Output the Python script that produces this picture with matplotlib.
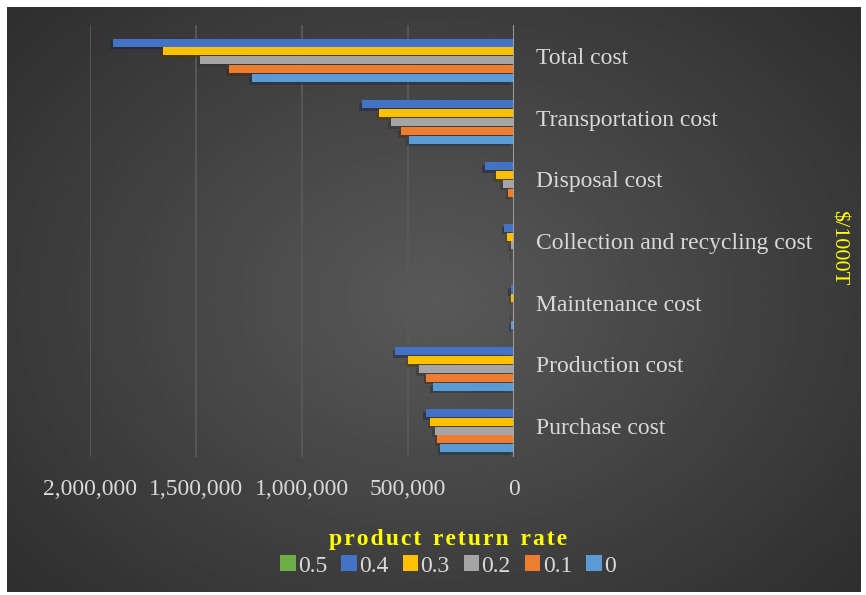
import matplotlib
matplotlib.use("Agg")
import matplotlib.pyplot as plt
import matplotlib.patheffects as pe
from matplotlib.patches import Patch
import numpy as np

# categories listed top to bottom
categories = ["Total cost", "Transportation cost", "Disposal cost",
              "Collection and recycling cost", "Maintenance cost",
              "Production cost", "Purchase cost"]

rates = ["0.5", "0.4", "0.3", "0.2", "0.1", "0"]

cost_r05 = [0, 0, 0, 0, 0, 0, 0]
cost_r04 = [1891000, 717000, 139000, 45000, 16000, 559000, 417000]
cost_r03 = [1655000, 637000, 87000, 31000, 12000, 498000, 394000]
cost_r02 = [1481000, 580000, 54000, 16000, 2000, 450000, 375000]
cost_r01 = [1344000, 533000, 26000, 7000, 7000, 413000, 361000]
cost_r00 = [1236000, 495000, 2000, 1000, 12000, 384000, 347000]

series = [cost_r05, cost_r04, cost_r03, cost_r02, cost_r01, cost_r00]
colors = ["#70AD47", "#4472C4", "#FFC000", "#A5A5A5", "#ED7D31", "#5B9BD5"]

serif = ["Liberation Serif", "DejaVu Serif"]
text_color = "#D9D9D9"
yellow = "#FFFF00"

fig = plt.figure(figsize=(8.66, 5.95), dpi=100, facecolor="white")

# dark radial background
bg = fig.add_axes([7 / 866, 3 / 595, 853 / 866, 585 / 595], zorder=-5)
gx, gy = np.meshgrid(np.linspace(-1, 1, 400), np.linspace(-1, 1, 300))
r = np.sqrt((gx * 0.9) ** 2 + (gy * 0.8) ** 2)
shade = np.clip(0.35 - 0.14 * r, 0.15, 0.35)
bg.imshow(shade, cmap="gray", vmin=0, vmax=1, aspect="auto",
          extent=[0, 1, 0, 1], interpolation="bilinear")
bg.set_axis_off()

ax = fig.add_axes([90 / 866, 1 - 457 / 595, 424 / 866, 432 / 595])
ax.patch.set_alpha(0)

y_pos = np.arange(len(categories))
step = 0.86 / len(series)
shadow = [pe.SimplePatchShadow(offset=(-2, -2), alpha=0.45), pe.Normal()]

for i, vals in enumerate(series):
    ax.barh(y_pos + (i - 2.5) * step, vals, height=step * 0.9,
            color=colors[i], label=rates[i], zorder=3, path_effects=shadow)

ax.set_xlim(2000000, 0)
ax.set_ylim(len(categories) - 0.5, -0.5)
ax.set_xticks([2000000, 1500000, 1000000, 500000, 0])
ax.set_xticklabels(["2,000,000", "1,500,000", "1,000,000", "500,000", "0"],
                   family=serif, fontsize=17, color=text_color)
ax.tick_params(axis="x", length=0, pad=16)

ax.yaxis.tick_right()
ax.set_yticks(y_pos)
ax.set_yticklabels(categories, family=serif, fontsize=17, color=text_color)
ax.tick_params(axis="y", length=0, pad=16)

ax.grid(axis="x", color="#595959", linewidth=1.3, zorder=0)
ax.axvline(0, color="#A6A6A6", linewidth=2, zorder=4)
for s in ax.spines.values():
    s.set_visible(False)

fig.text(838 / 866, 1 - 248 / 595, "$/1000T", rotation=270, ha="center",
         va="center", family=serif, fontsize=16, color=yellow)

title = "\u200a".join("product return rate").replace("\u200a \u200a", "  ")
fig.text(448 / 866, 1 - 540 / 595, title, ha="center", va="center",
         family=serif, fontsize=17, fontweight="bold", color=yellow)

handles = [Patch(facecolor=c, edgecolor="none") for c in colors]
fig.legend(handles, rates, loc="center", bbox_to_anchor=(448 / 866, 1 - 566 / 595),
           ncol=6, frameon=False, handlelength=0.65, handleheight=0.65,
           handletextpad=0.1, columnspacing=0.6,
           prop={"family": serif, "size": 17}, labelcolor=text_color)

fig.savefig("out.png", dpi=100, facecolor="white")
